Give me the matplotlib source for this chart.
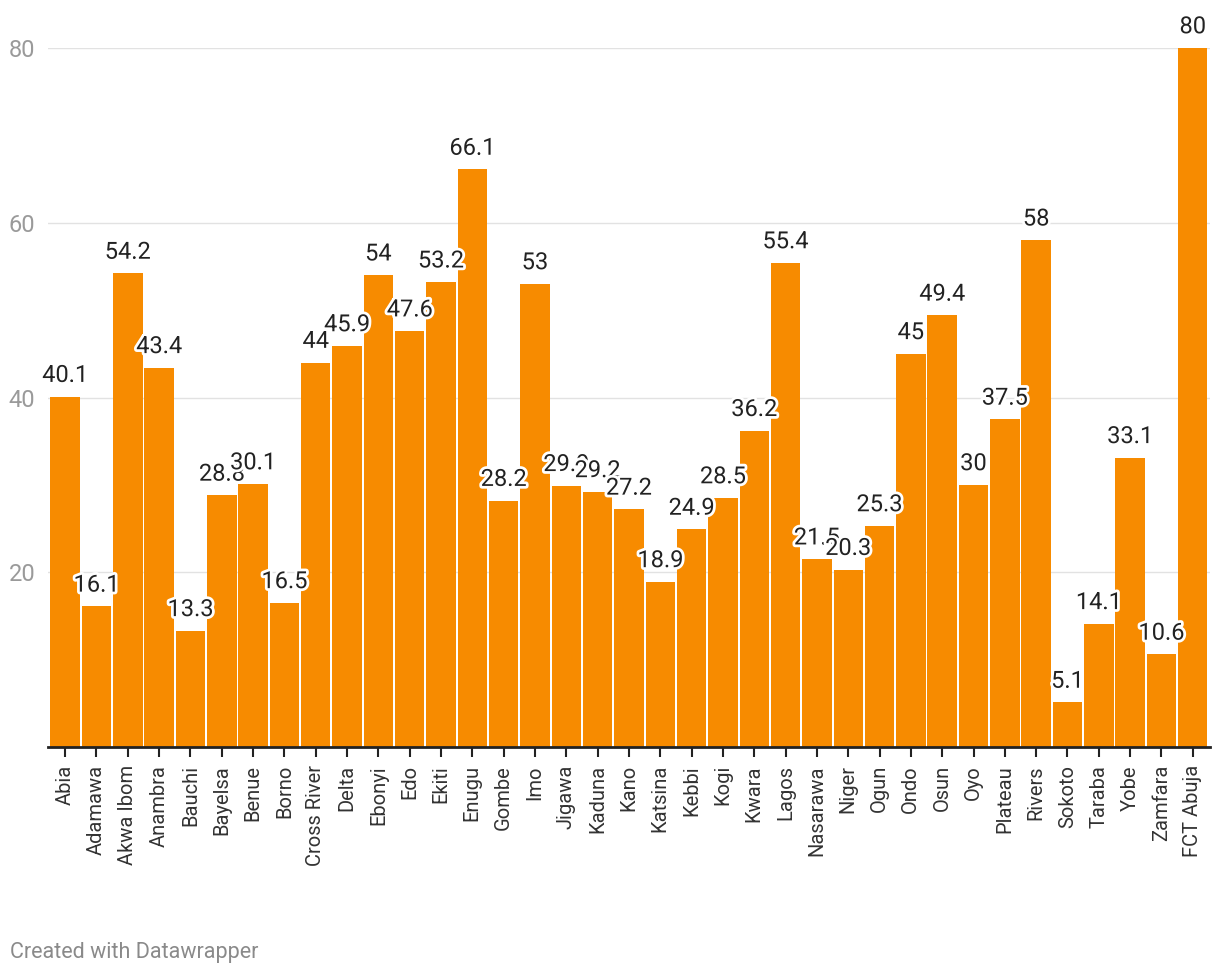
import numpy as np
import matplotlib.pyplot as plt
import matplotlib.patheffects as pe

# Daten
states = ['Abia', 'Adamawa', 'Akwa Ibom', 'Anambra', 'Bauchi', 'Bayelsa', 'Benue', 'Borno',
          'Cross River', 'Delta', 'Ebonyi', 'Edo', 'Ekiti', 'Enugu', 'Gombe', 'Imo', 'Jigawa',
          'Kaduna', 'Kano', 'Katsina', 'Kebbi', 'Kogi', 'Kwara', 'Lagos', 'Nasarawa', 'Niger',
          'Ogun', 'Ondo', 'Osun', 'Oyo', 'Plateau', 'Rivers', 'Sokoto', 'Taraba', 'Yobe',
          'Zamfara', 'FCT Abuja']
values = [40.1, 16.1, 54.2, 43.4, 13.3, 28.8, 30.1, 16.5,
          44, 45.9, 54, 47.6, 53.2, 66.1, 28.2, 53, 29.9,
          29.2, 27.2, 18.9, 24.9, 28.5, 36.2, 55.4, 21.5, 20.3,
          25.3, 45, 49.4, 30, 37.5, 58, 5.1, 14.1, 33.1,
          10.6, 80]
yticks = [20, 40, 60, 80]

plt.rcParams['font.family'] = ['Roboto', 'DejaVu Sans']

fig = plt.figure(figsize=(12.2, 9.76), dpi=100)
ax = fig.add_axes([0.0393, 0.2346, 0.9525, 0.7162])

x = np.arange(len(states))
ax.bar(x, values, width=0.94, color='#f78b00', zorder=2)

for xi, v in zip(x, values):
    ax.annotate(f'{v:g}', (xi, v), xytext=(0, 7), textcoords='offset points',
                ha='center', va='bottom', fontsize=17, color='#222222', clip_on=False,
                zorder=3, path_effects=[pe.withStroke(linewidth=4, foreground='white')])

ax.set_xlim(-0.55, len(states) - 0.45)
ax.set_ylim(0, 80)
ax.set_yticks(yticks)
ax.grid(axis='y', color='#e2e2e2', linewidth=1, zorder=0)
ax.tick_params(axis='y', length=0, labelsize=17, labelcolor='#9a9a9a', pad=9)
ax.set_xticks(x)
ax.set_xticklabels(states, rotation=90, fontsize=14.5, color='#333333')
ax.tick_params(axis='x', length=7, width=1.5, color='#222222', pad=6)
for s in ['top', 'right', 'left']:
    ax.spines[s].set_visible(False)
ax.spines['bottom'].set_linewidth(2)
ax.spines['bottom'].set_color('#222222')

fig.text(0.008, 0.018, 'Created with Datawrapper', fontsize=15.5, color='#8a8a8a')

fig.savefig('out.png', dpi=100)
